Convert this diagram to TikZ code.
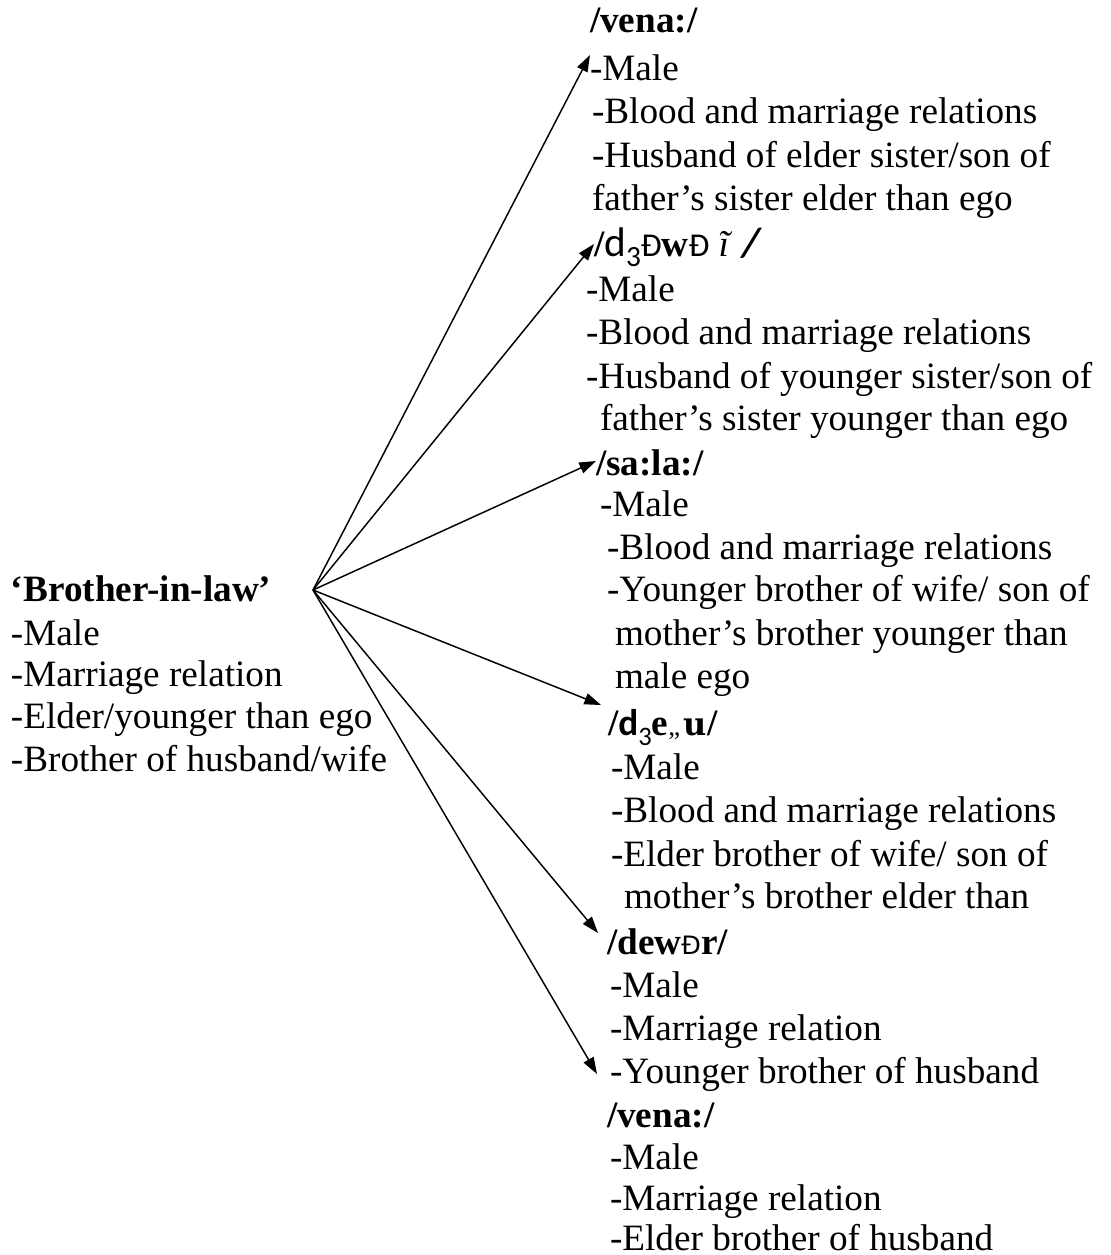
\documentclass[tikz,border=0pt]{standalone}
\usepackage{fontspec}
\setmainfont{Liberation Serif}
\newfontfamily\altsans{Carlito}
\newfontfamily\slabfont{DejaVu Serif}
\newfontfamily\ethfont{DejaVu Sans}
\usetikzlibrary{arrows.meta}

% size switch and lowered subscript for the phonetic glyphs
\newcommand{\glyphsize}[1]{\fontsize{#1}{#1}\selectfont}
\newcommand{\lowthree}[1]{\raisebox{-0.28em}[0pt][0pt]{\altsans\mdseries\glyphsize{#1}3}}

\begin{document}
\begin{tikzpicture}[x=0.75pt,y=-0.75pt,
  every node/.style={inner sep=0pt, outer sep=0pt},
  ln/.style={anchor=base west, font=\fontsize{27.9}{33}\selectfont},
  hd/.style={anchor=base west, font=\fontsize{27.9}{33}\selectfont\bfseries},
  link/.style={line width=1.1pt, -{Triangle[length=12.5pt,width=8.5pt]}}]
\path[use as bounding box] (0,0) rectangle (1110,1255);

% the general term
\node[hd] (bil)  at (11,601) {‘Brother-in-law’};
\node[ln] (bil1) at (11,645) {-Male};
\node[ln] (bil2) at (11,686) {-Marriage relation};
\node[ln] (bil3) at (11,728) {-Elder/younger than ego};
\node[ln] (bil4) at (11,771) {-Brother of husband/wife};

% /vena:/ (sister's husband)
\node[hd] (v1)  at (590,33)  {/vena:/};
\node[ln] (v1a) at (590,81)  {-Male};
\node[ln] (v1b) at (592,124) {-Blood and marriage relations};
\node[ln] (v1c) at (592,168) {-Husband of elder sister/son of};
\node[ln] (v1d) at (592,210) {father’s sister elder than ego};

% /d3ÐwÐĩ/
\node[hd] (jw) at (594,256) {/{\altsans\mdseries\glyphsize{31}d}\lowthree{22}{\altsans\mdseries\glyphsize{25}Ð}w{\altsans\mdseries\glyphsize{25}Ð}\hspace{0.25em}{\mdseries\itshape ĩ}\hspace{0.35em}{\altsans\bfseries\itshape\glyphsize{31}/}};
\node[ln] (jwa) at (586,301) {-Male};
\node[ln] (jwb) at (586,344) {-Blood and marriage relations};
\node[ln] (jwc) at (586,388) {-Husband of younger sister/son of};
\node[ln] (jwd) at (600,430) {father’s sister younger than ego};

% /sa:la:/
\node[hd] (sl)  at (596,475) {/sa:la:/};
\node[ln] (sla) at (600,516) {-Male};
\node[ln] (slb) at (607,559) {-Blood and marriage relations};
\node[ln] (slc) at (607,601) {-Younger brother of wife/ son of};
\node[ln] (sld) at (615,645) {mother’s brother younger than};
\node[ln] (sle) at (615,688) {male ego};

% /d3e„u/
\node[hd] (je)  at (608,735) {/{\altsans d}\lowthree{20}e{\mdseries\glyphsize{20}„}\hspace{0.1em}{\slabfont\glyphsize{24}u}/};
\node[ln] (jea) at (611,779) {-Male};
\node[ln] (jeb) at (611,822) {-Blood and marriage relations};
\node[ln] (jec) at (611,866) {-Elder brother of wife/ son of};
\node[ln] (jed) at (624,908) {mother’s brother elder than};

% /dewÐr/
\node[hd] (dw)  at (607,954)  {/dew{\ethfont\mdseries\glyphsize{19}Ð}r/};
\node[ln] (dwa) at (610,997)  {-Male};
\node[ln] (dwb) at (610,1040) {-Marriage relation};
\node[ln] (dwc) at (610,1083) {-Younger brother of husband};

% /vena:/ (husband's elder brother)
\node[hd] (v2)  at (607,1127) {/vena:/};
\node[ln] (v2a) at (610,1169) {-Male};
\node[ln] (v2b) at (610,1210) {-Marriage relation};
\node[ln] (v2c) at (610,1250) {-Elder brother of husband};

% connectors fanning out from one point
\coordinate (hub) at (313,590);
\coordinate (t1) at (590,55);
\coordinate (t2) at (594,244);
\coordinate (t3) at (596,461);
\coordinate (t4) at (601,705);
\coordinate (t5) at (598,933);
\coordinate (t6) at (597,1074);
\foreach \t in {t1,t2,t3,t4,t5,t6}
  \draw[link] (hub) -- (\t);
\end{tikzpicture}
\end{document}
